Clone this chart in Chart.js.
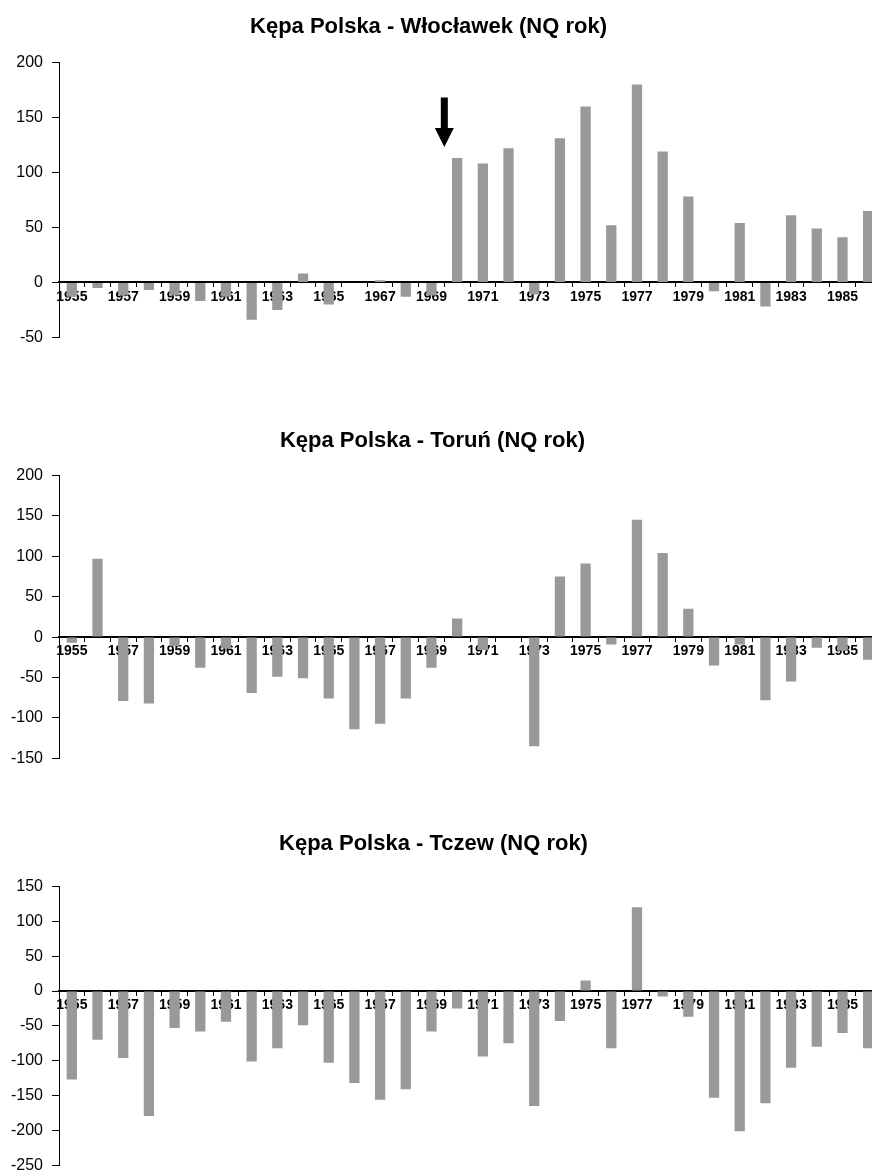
<!DOCTYPE html>
<html>
<head>
<meta charset="utf-8">
<script src="https://cdn.jsdelivr.net/npm/chart.js@4.4.0/dist/chart.umd.min.js"></script>
<style>
  html, body { margin: 0; padding: 0; background: #fff; }
  #wrap { position: relative; width: 872px; height: 1173px; overflow: hidden; }
  canvas { position: absolute; left: 0; }
</style>
</head>
<body>
<div id="wrap">
  <canvas id="c1" width="884" height="356" style="top:0px"></canvas>
  <canvas id="c2" width="884" height="377" style="top:400px"></canvas>
  <canvas id="c3" width="884" height="384" style="top:800px"></canvas>
</div>
<script>
// years on the category axis
var years = ["1955", "1956", "1957", "1958", "1959", "1960", "1961", "1962", "1963", "1964",
             "1965", "1966", "1967", "1968", "1969", "1970", "1971", "1972", "1973", "1974",
             "1975", "1976", "1977", "1978", "1979", "1980", "1981", "1982", "1983", "1984",
             "1985", "1986"];

// NQ rok differences
var wloclawek = [-13, -5, -12, -7, -12, -17, -13, -34, -25, 8, -20, 0, 2, -13, -12,
                 113, 108, 122, -11, 131, 160, 52, 180, 119, 78, -8, 54, -22, 61, 49, 41, 65];
var torun = [-7, 97, -79, -82, -11, -38, -14, -69, -49, -51, -76, -114, -107, -76, -38,
             23, -16, 0, -135, 75, 91, -9, 145, 104, 35, -35, -9, -78, -55, -13, -17, -28];
var tczew = [-127, -70, -96, -179, -53, -58, -44, -101, -82, -49, -103, -132, -156, -141, -58,
             -25, -94, -75, -165, -43, 15, -82, 120, -8, -37, -153, -201, -161, -110, -80, -60, -82];

// y axis ranges [min, max]
var rangeWloclawek = [-50, 200];
var rangeTorun = [-150, 200];
var rangeTczew = [-250, 150];

// arrow in the first chart: between 1969 and 1970, from 168 down to 123
var arrowBetween = ["1969", "1970"];
var arrowFrom = 168;
var arrowTo = 123;

Chart.defaults.font.family = "'Liberation Sans', Arial, sans-serif";
Chart.defaults.color = "#000";

var arrowPlugin = {
  id: "arrow",
  afterDatasetsDraw: function(chart) {
    var x = chart.scales.x, y = chart.scales.y, ctx = chart.ctx;
    var px = (x.getPixelForValue(years.indexOf(arrowBetween[0])) + x.getPixelForValue(years.indexOf(arrowBetween[1]))) / 2;
    var top = y.getPixelForValue(arrowFrom), tip = y.getPixelForValue(arrowTo);
    var headLen = 19, headW = 9.5, shaftW = 3.5;
    ctx.save();
    ctx.fillStyle = "#000";
    ctx.beginPath();
    ctx.moveTo(px - shaftW, top);
    ctx.lineTo(px + shaftW, top);
    ctx.lineTo(px + shaftW, tip - headLen);
    ctx.lineTo(px + headW, tip - headLen);
    ctx.lineTo(px, tip);
    ctx.lineTo(px - headW, tip - headLen);
    ctx.lineTo(px - shaftW, tip - headLen);
    ctx.closePath();
    ctx.fill();
    ctx.restore();
  }
};

// padLeft < 0 pulls the title a bit left of the canvas centre, the y axis width makes up for it
function makeChart(id, title, values, range, padTop, padBottom, padLeft, plugins) {
  return new Chart(id, {
    type: "bar",
    data: {
      labels: years,
      datasets: [{
        data: values,
        backgroundColor: "#999999",
        borderWidth: 0,
        barPercentage: 0.4,
        categoryPercentage: 1
      }]
    },
    options: {
      responsive: false,
      animation: false,
      events: [],
      layout: { padding: { left: padLeft, right: 3, top: 0, bottom: 12 } },
      plugins: {
        legend: { display: false },
        tooltip: { enabled: false },
        title: {
          display: true,
          text: title,
          color: "#000",
          font: { size: 22, weight: "bold" },
          padding: { top: padTop, bottom: padBottom }
        }
      },
      scales: {
        x: {
          position: { y: 0 },
          offset: true,
          z: 1,
          border: { color: "#000", width: 2 },
          grid: { offset: true, drawOnChartArea: false, drawTicks: true, tickLength: 4, color: "#000" },
          ticks: {
            autoSkip: false,
            maxRotation: 0,
            padding: 2,
            font: { size: 14, weight: "bold" },
            callback: function(v, i) { return i % 2 === 0 ? this.getLabelForValue(v) : ""; }
          }
        },
        y: {
          min: range[0],
          max: range[1],
          border: { color: "#000", width: 1 },
          grid: { drawOnChartArea: false, drawTicks: true, tickLength: 7, color: "#000" },
          ticks: { stepSize: 50, padding: 9, font: { size: 16 } },
          afterFit: function(scale) { scale.width = 59 - padLeft; }
        }
      }
    },
    plugins: plugins
  });
}

makeChart("c1", "Kępa Polska - Włocławek (NQ rok)", wloclawek, rangeWloclawek, 14, 22, -24, [arrowPlugin]);
makeChart("c2", "Kępa Polska - Toruń (NQ rok)", torun, rangeTorun, 28, 21, -16, []);
makeChart("c3", "Kępa Polska - Tczew (NQ rok)", tczew, rangeTczew, 31, 29, -14, []);
</script>
</body>
</html>
